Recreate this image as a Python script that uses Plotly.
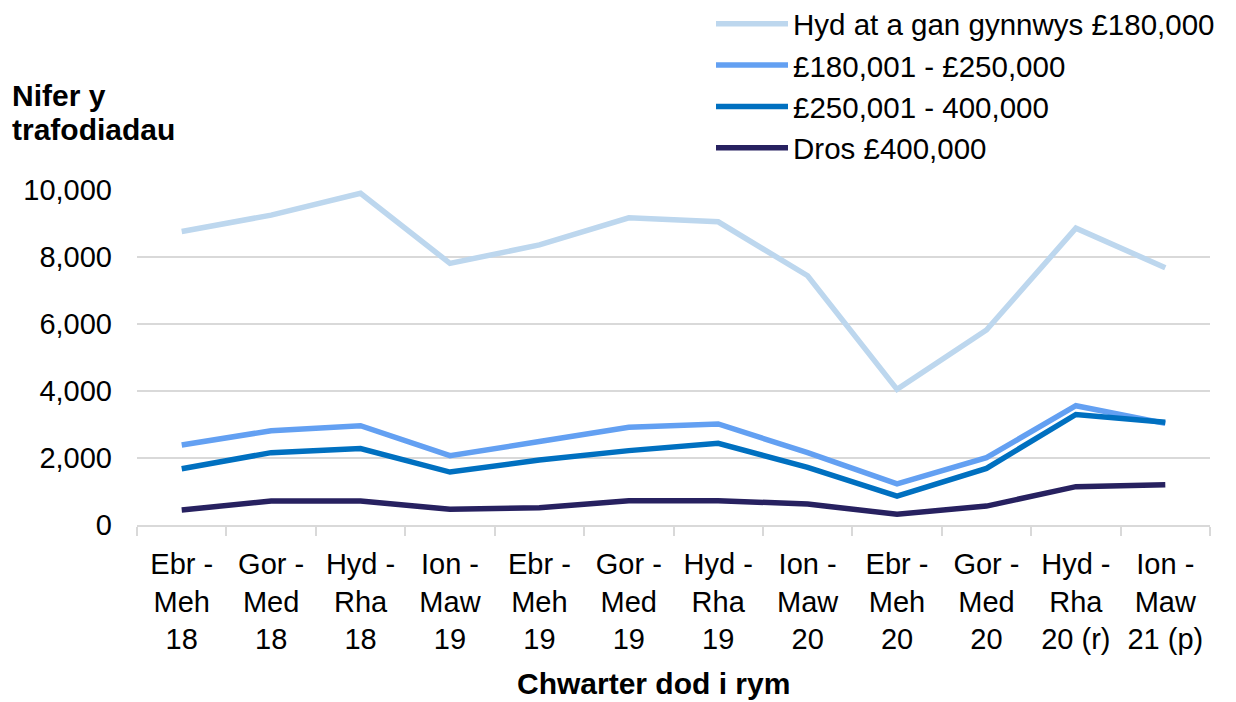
import plotly.graph_objects as go

categories = ["Ebr -<br>Meh<br>18", "Gor -<br>Med<br>18", "Hyd -<br>Rha<br>18", "Ion -<br>Maw<br>19",
              "Ebr -<br>Meh<br>19", "Gor -<br>Med<br>19", "Hyd -<br>Rha<br>19", "Ion -<br>Maw<br>20",
              "Ebr -<br>Meh<br>20", "Gor -<br>Med<br>20", "Hyd -<br>Rha<br>20 (r)", "Ion -<br>Maw<br>21 (p)"]

series_names = ["Hyd at a gan gynnwys £180,000", "£180,001 - £250,000", "£250,001 - 400,000", "Dros £400,000"]
upto_180k = [8760, 9250, 9900, 7810, 8360, 9170, 9050, 7440, 4050, 5820, 8860, 7680]
band_180_250k = [2390, 2815, 2965, 2070, 2490, 2915, 3015, 2160, 1225, 2010, 3560, 3035]
band_250_400k = [1680, 2160, 2280, 1580, 1940, 2220, 2440, 1720, 865, 1690, 3300, 3065]
over_400k = [450, 715, 715, 470, 515, 725, 725, 625, 320, 565, 1145, 1205]
colors = ["#BDD7EE", "#63A0F2", "#0070C0", "#272160"]

FONT = "Arial, 'Liberation Sans', sans-serif"
fig = go.Figure()
for i, (name, vals) in enumerate(zip(series_names, [upto_180k, band_180_250k, band_250_400k, over_400k])):
    fig.add_trace(go.Scatter(x=categories, y=vals, name=name, mode="lines",
                             line=dict(color=colors[i], width=5.5)))

OFF = 8  # page body margin offset
W, H = 1236, 702
L, T = 137 - OFF, 190 - OFF
R = W - (1210 - OFF)
B = H - (525 - OFF)
pw, ph = W - L - R, H - T - B


def px(xs):
    return (xs - OFF - L) / pw


def py(ys):
    return (H - B - (ys - OFF)) / ph


fig.update_layout(
    width=W, height=H,
    margin=dict(l=L, r=R, t=T, b=B, autoexpand=False),
    plot_bgcolor="white", paper_bgcolor="white",
    font=dict(family=FONT, size=29, color="#000000"),
    showlegend=True,
    legend=dict(x=px(711), xanchor="left", y=py(-2), yanchor="top",
                font=dict(size=29.5), itemwidth=72, bgcolor="rgba(0,0,0,0)"),
    xaxis=dict(type="category", range=[-0.5, 11.5], tickson="boundaries", ticks="outside", ticklen=9,
               tickcolor="#D9D9D9", tickwidth=2, showline=True, linecolor="#D9D9D9", linewidth=2,
               showgrid=False, tickfont=dict(size=29), ticklabelstandoff=12),
    yaxis=dict(range=[0, 10000], tickvals=[0, 2000, 4000, 6000, 8000, 10000],
               ticktext=["0", "2,000", "4,000", "6,000", "8,000", "10,000"],
               showgrid=True, gridcolor="#D9D9D9", gridwidth=2, zeroline=False, showline=False,
               ticks="", ticklabelstandoff=24, tickfont=dict(size=29)),
    annotations=[
        dict(text="<b>Nifer y</b>", xref="paper", yref="paper",
             x=px(10), y=py(95), xanchor="left", yanchor="middle", align="left",
             showarrow=False, font=dict(size=30)),
        dict(text="<b>trafodiadau</b>", xref="paper", yref="paper",
             x=px(10), y=py(130), xanchor="left", yanchor="middle", align="left",
             showarrow=False, font=dict(size=30)),
        dict(text="<b>Chwarter dod i rym</b>", xref="paper", yref="paper",
             x=px(653), y=py(683), xanchor="center", yanchor="middle",
             showarrow=False, font=dict(size=30)),
    ],
)

fig.write_html("out.html")
